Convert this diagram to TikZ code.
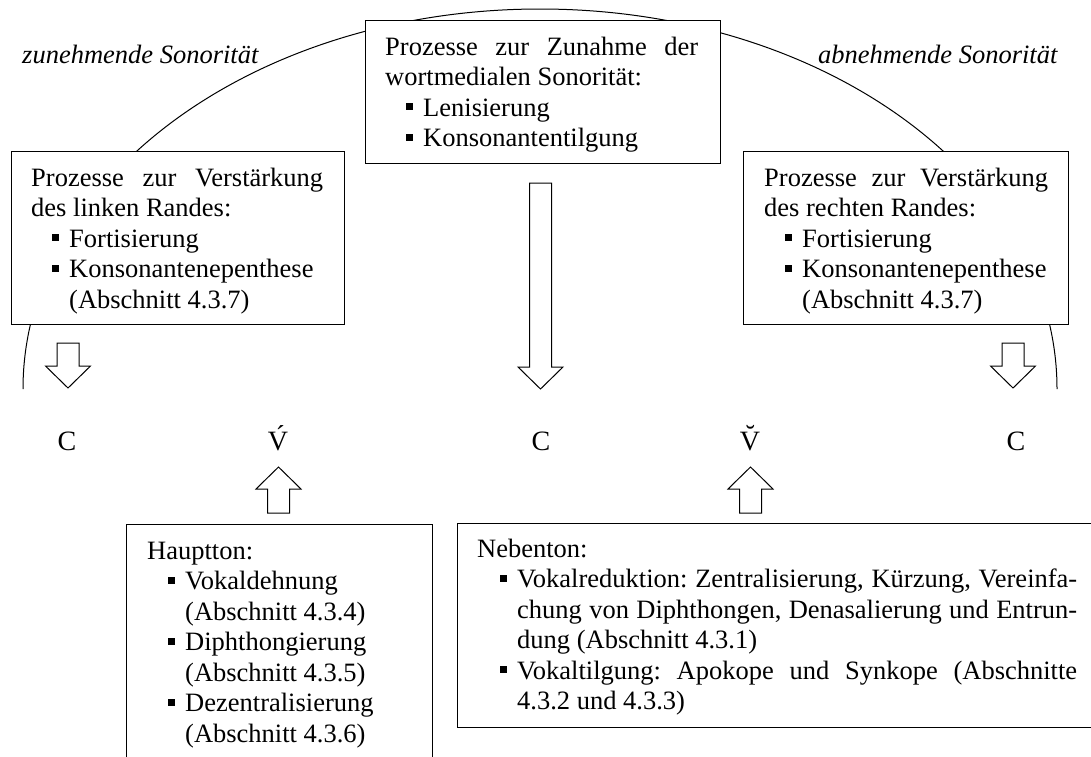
\documentclass[tikz,border=0pt]{standalone}
\usepackage{fontspec}
\setmainfont{Liberation Serif}
\newcommand\jl[2]{\hbox to #1{\spaceskip=0.25em plus 1fil minus 0.06em\xspaceskip=\spaceskip #2}}
\newcommand\itm[1][38pt]{\hspace*{#1}\llap{\raisebox{6pt}{\rule{7pt}{7pt}}\hspace{10pt}}}
\newcommand\dnarw[2]{\draw[arrowline, shift={(#1)}] (-11,-#2) -- (11,-#2) -- (11,-22) -- (22.5,-22) -- (0,0) -- (-22.5,-22) -- (-11,-22) -- cycle;}
\newcommand\uparw[2]{\draw[arrowline, shift={(#1)}] (-11,#2) -- (11,#2) -- (11,22) -- (22.5,22) -- (0,0) -- (-22.5,22) -- (-11,22) -- cycle;}
\tikzset{
  box/.style={draw, fill=white, line width=1pt, inner sep=0pt, anchor=north west},
  txt/.style={anchor=base west, inner sep=0pt, align=left, font=\fontsize{26.5}{30.5}\selectfont,
    execute at begin node={\spaceskip=0pt\xspaceskip=0pt\frenchspacing}},
  letter/.style={anchor=base, inner sep=0pt, font=\fontsize{28}{32}\selectfont},
  lab/.style={anchor=base west, inner sep=0pt, font=\fontsize{26.5}{30.5}\selectfont\itshape},
  arrowline/.style={draw, fill=white, line width=1pt, line join=miter},
}
\begin{document}
\begin{tikzpicture}[x=1pt, y=-1pt]
\useasboundingbox (0,0) rectangle (1091,756);
% sonority arc
\draw[line width=1pt] (23,389) arc[start angle=180, end angle=0, x radius=517pt, y radius=380pt];
\node[lab] (lzu) at (22,63) {zunehmende Sonorität};
\node[lab] (lab) at (818,63) {abnehmende Sonorität};
% top boxes
\node[box, minimum width=355pt, minimum height=143pt] (cbox) at (365,20) {};
\node[txt, text width=320pt] (ctext) at (385,55) {\jl{313pt}{Prozesse zur Zunahme der}\\
wortmedialen Sonorität:\\
\itm Lenisierung\\
\itm Konsonantentilgung};
\node[box, minimum width=333pt, minimum height=173pt] (lbox) at (11,151) {};
\node[txt, text width=300pt] (ltext) at (31,186) {\jl{292pt}{Prozesse zur Verstärkung}\\
des linken Randes:\\
\itm Fortisierung\\
\itm Konsonantenepenthese\\
\hspace*{38pt}(Abschnitt 4.3.7)};
\node[box, minimum width=325pt, minimum height=173pt] (rbox) at (743,151) {};
\node[txt, text width=300pt] (rtext) at (764,186) {\jl{284pt}{Prozesse zur Verstärkung}\\
des rechten Randes:\\
\itm Fortisierung\\
\itm Konsonantenepenthese\\
\hspace*{38pt}(Abschnitt 4.3.7)};
% syllable letters
\node[letter] (c1) at (67,450) {C};
\node[letter] (v1) at (278,450) {\'{V}};
\node[letter] (c2) at (541,450) {C};
\node[letter] (v2) at (750,450) {\u{V}};
\node[letter] (c3) at (1016,450) {C};
% arrows
\coordinate (a1) at (68,388);
\coordinate (a2) at (540.5,389);
\coordinate (a3) at (1013,388);
\coordinate (a4) at (278.5,467);
\coordinate (a5) at (750.5,467);
\dnarw{a1}{45}
\dnarw{a2}{206}
\dnarw{a3}{45}
\uparw{a4}{46}
\uparw{a5}{46}
% bottom boxes
\node[box, minimum width=306pt, minimum height=250pt] (hbox) at (126,524) {};
\node[txt, text width=280pt] (htext) at (147,559) {Hauptton:\\
\itm Vokaldehnung\\
\hspace*{38pt}(Abschnitt 4.3.4)\\
\itm Diphthongierung\\
\hspace*{38pt}(Abschnitt 4.3.5)\\
\itm Dezentralisierung\\
\hspace*{38pt}(Abschnitt 4.3.6)};
\node[box, minimum width=650pt, minimum height=204pt] (nbox) at (457,523) {};
\node[txt, text width=602pt] (ntext) at (477,557) {Nebenton:\\
\itm[40pt]\jl{560pt}{Vokalreduktion: Zentralisierung, Kürzung, Vereinfa-}\\
\hspace*{40pt}\jl{560pt}{chung von Diphthongen, Denasalierung und Entrun-}\\
\hspace*{40pt}dung (Abschnitt 4.3.1)\\
\itm[40pt]\jl{560pt}{Vokaltilgung: Apokope und Synkope (Abschnitte}\\
\hspace*{40pt}4.3.2 und 4.3.3)};
\end{tikzpicture}
\end{document}
